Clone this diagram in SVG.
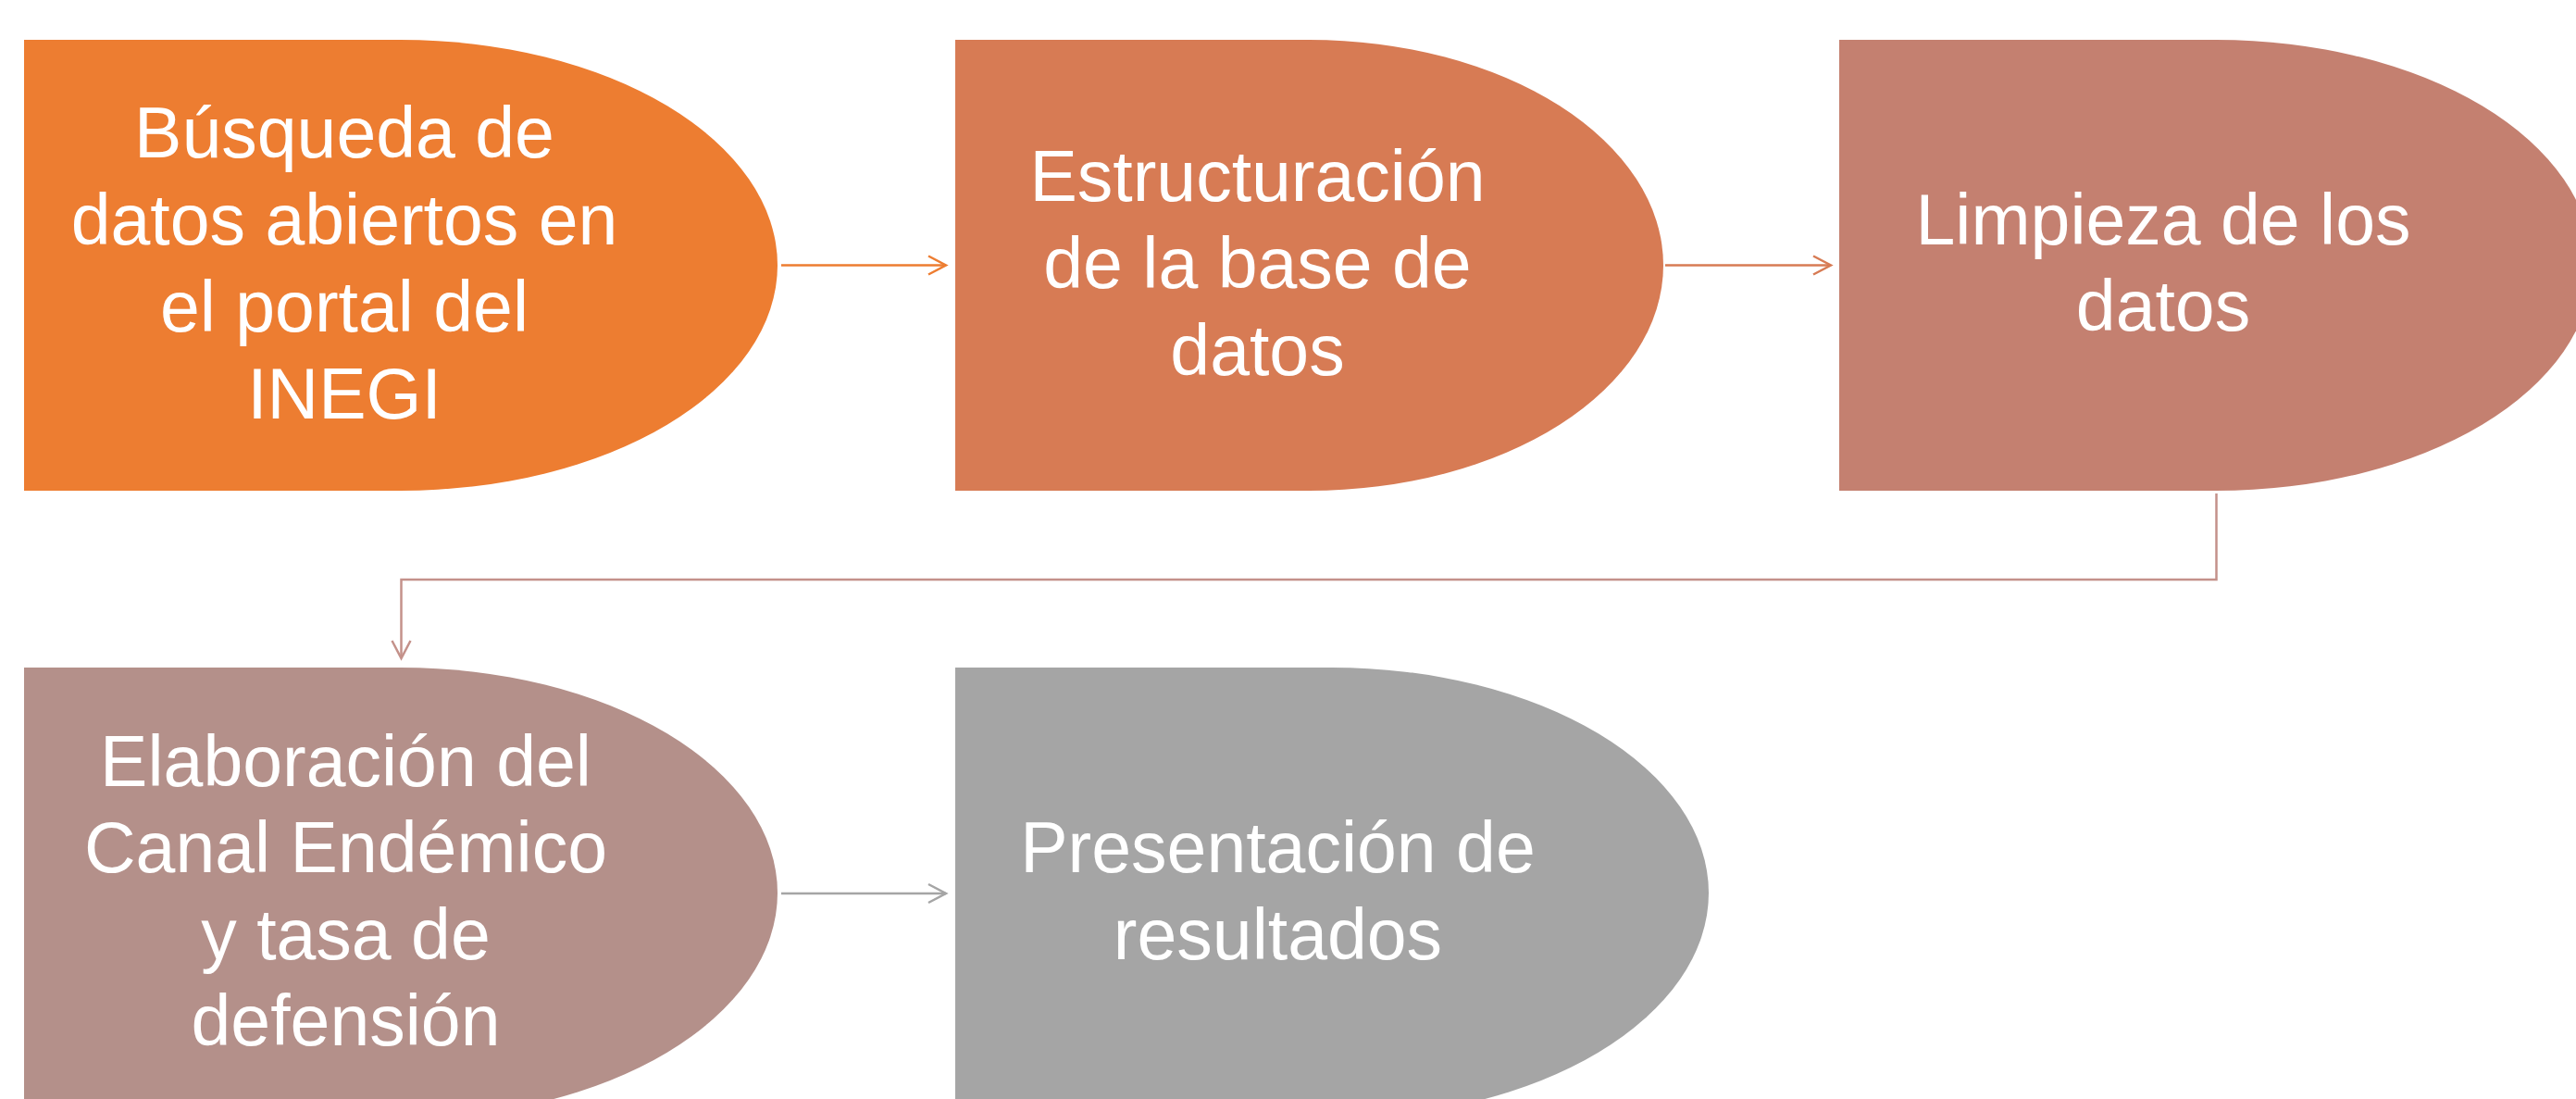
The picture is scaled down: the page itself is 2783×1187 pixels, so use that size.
<svg xmlns="http://www.w3.org/2000/svg" width="2783" height="1187" viewBox="0 0 2783 1187">
  <style>
    .lbl { font-family: "Liberation Sans", Arial, sans-serif; font-size: 77px; fill: #FFFFFF; text-anchor: middle; }
    .con { fill: none; stroke-width: 2.5; }
  </style>
  <defs>
    <marker id="a1" markerUnits="userSpaceOnUse" markerWidth="24" markerHeight="26" refX="21" refY="12" orient="auto">
      <polyline points="2,2 21,12 2,22" fill="none" stroke="#ED7D31" stroke-width="2.5"/>
    </marker>
    <marker id="a2" markerUnits="userSpaceOnUse" markerWidth="24" markerHeight="26" refX="21" refY="12" orient="auto">
      <polyline points="2,2 21,12 2,22" fill="none" stroke="#D77B54" stroke-width="2.5"/>
    </marker>
    <marker id="a3" markerUnits="userSpaceOnUse" markerWidth="24" markerHeight="26" refX="21" refY="12" orient="auto">
      <polyline points="2,2 21,12 2,22" fill="none" stroke="#C4918A" stroke-width="2.5"/>
    </marker>
    <marker id="a4" markerUnits="userSpaceOnUse" markerWidth="24" markerHeight="26" refX="21" refY="12" orient="auto">
      <polyline points="2,2 21,12 2,22" fill="none" stroke="#A5A5A5" stroke-width="2.5"/>
    </marker>
  </defs>
  <rect width="2783" height="1187" fill="#FFFFFF"/>

  <g id="connectors">
    <line class="con" x1="844" y1="286.5" x2="1022" y2="286.5" stroke="#ED7D31" marker-end="url(#a1)"/>
    <line class="con" x1="1799" y1="286.5" x2="1978" y2="286.5" stroke="#D77B54" marker-end="url(#a2)"/>
    <polyline class="con" points="2394.5,533 2394.5,626 433.5,626 433.5,711" stroke="#C4918A" marker-end="url(#a3)"/>
    <line class="con" x1="844" y1="965" x2="1022" y2="965" stroke="#A5A5A5" marker-end="url(#a4)"/>
  </g>

  <g id="node1">
    <path d="M26,43 H433 A407,243.5 0 0 1 433,530 H26 Z" fill="#ED7D31"/>
    <text class="lbl" x="372" y="169.5">Búsqueda de</text>
    <text class="lbl" x="372" y="264">datos abiertos en</text>
    <text class="lbl" x="372" y="358">el portal del</text>
    <text class="lbl" x="372" y="451.5">INEGI</text>
  </g>

  <g id="node2">
    <path d="M1032,43 H1414.5 A382.5,243.5 0 0 1 1414.5,530 H1032 Z" fill="#D77B54"/>
    <text class="lbl" x="1358.5" y="217">Estructuración</text>
    <text class="lbl" x="1358.5" y="311">de la base de</text>
    <text class="lbl" x="1358.5" y="404.5">datos</text>
  </g>

  <g id="node3">
    <path d="M1987,43 H2394.5 A406,243.5 0 0 1 2394.5,530 H1987 Z" fill="#C48070"/>
    <text class="lbl" x="2337" y="263.5">Limpieza de los</text>
    <text class="lbl" x="2337" y="357">datos</text>
  </g>

  <g id="node4">
    <path d="M26,721 H433 A407,243.5 0 0 1 433,1208 H26 Z" fill="#B4908A"/>
    <text class="lbl" x="373.5" y="848.5">Elaboración del</text>
    <text class="lbl" x="373.5" y="942">Canal Endémico</text>
    <text class="lbl" x="373.5" y="1035.5">y tasa de</text>
    <text class="lbl" x="373.5" y="1129">defensión</text>
  </g>

  <g id="node5">
    <path d="M1032,721 H1439 A407,243.5 0 0 1 1439,1208 H1032 Z" fill="#A5A5A5"/>
    <text class="lbl" x="1380.5" y="942">Presentación de</text>
    <text class="lbl" x="1380.5" y="1036">resultados</text>
  </g>
</svg>
